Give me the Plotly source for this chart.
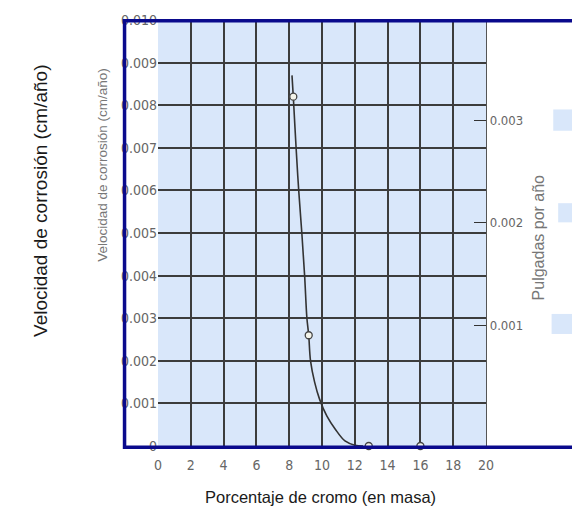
import plotly.graph_objects as go

# Data
curve_x = [8.17, 8.25, 8.42, 8.58, 8.77, 8.94, 9.08, 9.19, 9.30, 9.55, 9.85, 10.3, 10.8, 11.4, 12.0, 12.5]
curve_y = [0.0087, 0.0082, 0.0070, 0.0060, 0.0050, 0.0040, 0.0030, 0.0026, 0.0020, 0.0015, 0.0011, 0.0007, 0.0004, 0.00012, 0.00002, 0.0]
pts_x = [8.25, 9.19, 12.85, 16.0]
pts_y = [0.0082, 0.0026, 0.0, 0.0]

x_ticks = [0, 2, 4, 6, 8, 10, 12, 14, 16, 18, 20]
y_ticks = [0, 0.001, 0.002, 0.003, 0.004, 0.005, 0.006, 0.007, 0.008, 0.009, 0.010]
y_ticktext = ["0", "0.001", "0.002", "0.003", "0.004", "0.005", "0.006", "0.007", "0.008", "0.009", "0.010"]
y2_ticks = [0.001, 0.002, 0.003]
y2_ticktext = ["0.001", "0.002", "0.003"]
y2_range = [-0.000177, 0.003976]  # as the inch scale sits on the scanned figure

title_x = "Porcentaje de cromo (en masa)"
title_y_outer = "Velocidad de corrosión (cm/año)"
title_y_inner = "Velocidad de corrosión (cm/año)"
title_y2 = "Pulgadas por año"

NARROW = "Liberation Sans Narrow, DejaVu Sans Condensed, Arial Narrow, sans-serif"
SANS = "Liberation Sans, Arial, sans-serif"
GRID = "#3c3c3c"
LABEL = "#666666"

fig = go.Figure()
fig.add_trace(go.Scatter(x=curve_x, y=curve_y, mode="lines", line=dict(color="#333333", width=1.6),
                         line_shape="spline", hoverinfo="skip", showlegend=False))
fig.add_trace(go.Scatter(x=pts_x, y=pts_y, mode="markers",
                         marker=dict(symbol="circle", size=7, color="#f4f4ea",
                                     line=dict(color="#444444", width=1.3)),
                         showlegend=False, cliponaxis=False))
# invisible trace to activate the secondary axis
fig.add_trace(go.Scatter(x=[None], y=[None], yaxis="y2", showlegend=False))

fig.update_layout(
    width=572, height=515,
    margin=dict(l=158, r=86, t=12, b=69),
    paper_bgcolor="white",
    plot_bgcolor="#d9e7fa",
    xaxis=dict(range=[0, 20], tickvals=x_ticks, showgrid=True, gridcolor=GRID, gridwidth=1.5,
               zeroline=False, showline=False, ticks="", ticklabelstandoff=9,
               tickfont=dict(family=NARROW, size=14, color=LABEL)),
    yaxis=dict(range=[0, 0.010], tickvals=y_ticks, ticktext=y_ticktext, showgrid=True,
               gridcolor=GRID, gridwidth=1.5, zeroline=False, showline=False, ticks="",
               tickfont=dict(family=NARROW, size=14, color=LABEL)),
    yaxis2=dict(range=y2_range, overlaying="y", side="right",
                tickvals=y2_ticks, ticktext=y2_ticktext, showgrid=False, zeroline=False,
                showline=True, linecolor="#555555", linewidth=1.2,
                ticks="inside", ticklen=12, tickcolor="#333333", tickwidth=1.3,
                tickfont=dict(family=NARROW, size=13, color=LABEL)),
    font=dict(family=SANS),
    annotations=[
        dict(text=title_x, xref="paper", yref="paper", x=0.494, y=-0.12, showarrow=False,
             font=dict(family=SANS, size=16.5, color="#1a1a1a"), xanchor="center", yanchor="middle"),
        dict(text=title_y_outer, xref="paper", yref="paper", x=-0.36, y=0.575, showarrow=False,
             textangle=-90, font=dict(family=SANS, size=19, color="#1a1a1a"),
             xanchor="center", yanchor="middle"),
        dict(text=title_y_inner, xref="paper", yref="paper", x=-0.168, y=0.66, showarrow=False,
             textangle=-90, font=dict(family=SANS, size=13.5, color="#777777"),
             xanchor="center", yanchor="middle"),
        dict(text=title_y2, xref="paper", yref="paper", x=1.159, y=0.49, showarrow=False,
             textangle=-90, font=dict(family=SANS, size=16, color="#777777"),
             xanchor="center", yanchor="middle"),
    ],
    shapes=[
        dict(type="rect", xref="paper", yref="paper", x0=1.205, x1=1.27, y0=0.74, y1=0.79,
             fillcolor="#d9e7fa", line=dict(width=0), layer="below"),
        dict(type="rect", xref="paper", yref="paper", x0=1.22, x1=1.27, y0=0.525, y1=0.57,
             fillcolor="#d9e7fa", line=dict(width=0), layer="below"),
        dict(type="rect", xref="paper", yref="paper", x0=1.20, x1=1.27, y0=0.263, y1=0.31,
             fillcolor="#d9e7fa", line=dict(width=0), layer="below"),
        dict(type="rect", xref="paper", yref="paper", x0=-0.102, x1=1.30, y0=-0.003, y1=0.998,
             line=dict(color="#0a0a8c", width=3.5), fillcolor="rgba(0,0,0,0)", layer="above"),
    ],
)

fig.write_html("out.html")
